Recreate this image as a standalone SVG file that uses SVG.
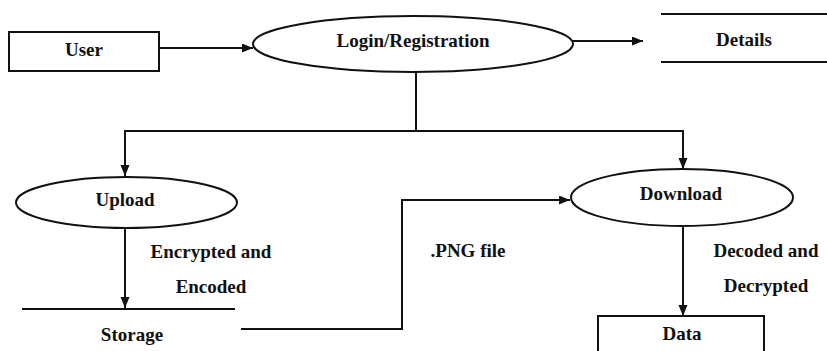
<svg xmlns="http://www.w3.org/2000/svg" width="827" height="351" viewBox="0 0 827 351">
<style>
.s{fill:none;stroke:#111;stroke-width:2}
.n{fill:#fff;stroke:#111;stroke-width:2}
text{font-family:'Liberation Serif','DejaVu Serif',serif;font-weight:700;font-size:19px;fill:#111;text-anchor:middle}
</style>
<defs>
<marker id="ah" markerUnits="userSpaceOnUse" markerWidth="12" markerHeight="10" refX="11" refY="4.5" orient="auto">
<path d="M0,0 L11,4.5 L0,9 z" fill="#111"/>
</marker>
</defs>
<rect width="827" height="351" fill="#fff"/>
<g id="connectors">
<line class="s" x1="159" y1="48" x2="253" y2="48" marker-end="url(#ah)"/>
<line class="s" x1="572" y1="41" x2="643" y2="41" marker-end="url(#ah)"/>
<polyline class="s" points="416,72 416,131 125,131 125,176" marker-end="url(#ah)"/>
<polyline class="s" points="416,131 683,131 683,169" marker-end="url(#ah)"/>
<line class="s" x1="125" y1="228" x2="125" y2="308" marker-end="url(#ah)"/>
<polyline class="s" points="241,329 402,329 402,200 570,200" marker-end="url(#ah)"/>
<line class="s" x1="683" y1="226" x2="683" y2="316" marker-end="url(#ah)"/>
<text x="211" y="258">Encrypted and</text>
<text x="211" y="293">Encoded</text>
<text x="468" y="257">.PNG file</text>
<text x="766" y="257">Decoded and</text>
<text x="766" y="292">Decrypted</text>
</g>
<g id="user">
<rect class="n" x="9" y="32" width="150" height="39"/>
<text x="84" y="56">User</text>
</g>
<g id="login">
<ellipse class="n" cx="413" cy="44" rx="160" ry="28"/>
<text x="413" y="47">Login/Registration</text>
</g>
<g id="details">
<line class="s" x1="661" y1="14" x2="827" y2="14"/>
<line class="s" x1="661" y1="62" x2="827" y2="62"/>
<text x="744" y="46">Details</text>
</g>
<g id="upload">
<ellipse class="n" cx="126.5" cy="202.5" rx="110.5" ry="25.5"/>
<text x="125" y="206">Upload</text>
</g>
<g id="storage">
<line class="s" x1="22" y1="309" x2="235" y2="309"/>
<text x="132" y="341">Storage</text>
</g>
<g id="download">
<ellipse class="n" cx="682" cy="197.5" rx="111" ry="28.5"/>
<text x="681" y="200">Download</text>
</g>
<g id="data">
<rect class="n" x="598" y="316" width="166" height="45"/>
<text x="682" y="340">Data</text>
</g>
</svg>
